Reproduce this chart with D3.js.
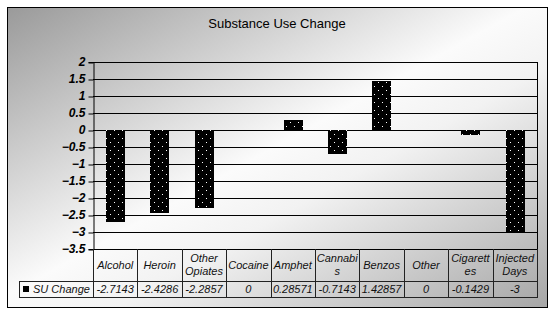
<!DOCTYPE html>
<html>
<head>
<meta charset="utf-8">
<script src="https://cdn.jsdelivr.net/npm/d3@7"></script>
<style>
  body { margin: 0; background: #fff; }
  svg { display: block; font-family: "Liberation Sans", Arial, sans-serif; }
</style>
</head>
<body>
<div id="chart"></div>
<script>
// chart data
const categories = ["Alcohol", "Heroin", "Other Opiates", "Cocaine", "Amphet", "Cannabis", "Benzos", "Other", "Cigarettes", "Injected Days"];
const headerLines = [["Alcohol"], ["Heroin"], ["Other", "Opiates"], ["Cocaine"], ["Amphet"], ["Cannabi", "s"], ["Benzos"], ["Other"], ["Cigarett", "es"], ["Injected", "Days"]];
const suChange = [-2.7143, -2.4286, -2.2857, 0, 0.28571, -0.7143, 1.42857, 0, -0.1429, -3];
const yTicks = [2, 1.5, 1, 0.5, 0, -0.5, -1, -1.5, -2, -2.5, -3, -3.5];
const seriesName = "SU Change";
const chartTitle = "Substance Use Change";

const width = 556, height = 316;
const plot = { left: 93, right: 537, top: 62, bottom: 249 };

const svg = d3.select("#chart").append("svg")
    .attr("width", width)
    .attr("height", height);

const defs = svg.append("defs");

// background gradient
const grad = defs.append("linearGradient")
    .attr("id", "bg")
    .attr("x1", 0).attr("y1", 0)
    .attr("x2", 1).attr("y2", 1);
grad.append("stop").attr("offset", "0%").attr("stop-color", "#9a9a9a");
grad.append("stop").attr("offset", "48%").attr("stop-color", "#fbfbfb");
grad.append("stop").attr("offset", "60%").attr("stop-color", "#f2f2f2");
grad.append("stop").attr("offset", "100%").attr("stop-color", "#a6a6a6");

// dotted bar fill
const pat = defs.append("pattern")
    .attr("id", "dots")
    .attr("patternUnits", "userSpaceOnUse")
    .attr("width", 8).attr("height", 8);
pat.append("rect").attr("width", 8).attr("height", 8).attr("fill", "#000");
pat.append("rect").attr("x", 2).attr("y", 2).attr("width", 1).attr("height", 1).attr("fill", "#fff");
pat.append("rect").attr("x", 6).attr("y", 6).attr("width", 1).attr("height", 1).attr("fill", "#fff");

// chart frame
svg.append("rect")
    .attr("x", 7.5).attr("y", 7.5)
    .attr("width", 540).attr("height", 300)
    .attr("fill", "url(#bg)")
    .attr("stroke", "#000")
    .attr("stroke-width", 1);

// title
svg.append("text")
    .attr("x", 277)
    .attr("y", 28)
    .attr("text-anchor", "middle")
    .attr("font-size", 13)
    .attr("fill", "#000")
    .text(chartTitle);

// scales
const x = d3.scaleBand()
    .domain(categories)
    .range([plot.left, plot.right])
    .paddingInner(0.583)
    .paddingOuter(0.29);

const col = d3.scaleBand()
    .domain(categories)
    .range([plot.left, plot.right])
    .padding(0);

const y = d3.scaleLinear()
    .domain([-3.5, 2])
    .range([plot.bottom, plot.top]);

// gridlines
svg.append("g")
    .selectAll("line")
    .data(yTicks)
    .enter()
    .append("line")
    .attr("x1", plot.left)
    .attr("x2", plot.right)
    .attr("y1", d => Math.round(y(d)) + 0.5)
    .attr("y2", d => Math.round(y(d)) + 0.5)
    .attr("stroke", "#000");

// right border of plot
svg.append("line")
    .attr("x1", plot.right + 0.5).attr("x2", plot.right + 0.5)
    .attr("y1", plot.top).attr("y2", plot.bottom)
    .attr("stroke", "#000");

// bars
svg.append("g")
    .selectAll("rect")
    .data(suChange)
    .enter()
    .append("rect")
    .attr("x", (d, i) => Math.round(x(categories[i])))
    .attr("width", Math.round(x.bandwidth()))
    .attr("y", d => Math.round(y(Math.max(0, d))))
    .attr("height", d => Math.round(Math.abs(y(d) - y(0))))
    .attr("fill", "url(#dots)")
    .attr("shape-rendering", "crispEdges");

// y axis
const yAxis = svg.append("g")
    .attr("transform", `translate(${plot.left + 0.5},0)`)
    .call(d3.axisLeft(y).tickValues(yTicks).tickSize(5).tickPadding(3).tickFormat(d3.format("")));
yAxis.select(".domain").attr("stroke", "#000");
yAxis.selectAll(".tick line").attr("stroke", "#000")
    .attr("transform", (d) => `translate(0,${Math.round(y(d)) + 0.5 - y(d)})`);
yAxis.selectAll("text")
    .attr("font-family", "'Liberation Sans', Arial, sans-serif")
    .attr("font-size", 12)
    .attr("font-weight", "bold")
    .attr("font-style", "italic")
    .attr("fill", "#000");

// data table
const table = svg.append("g").attr("fill", "none").attr("stroke", "#222");
const rowTop = 249, rowMid = 281, rowBot = 297;

table.append("line").attr("x1", plot.left).attr("x2", plot.right + 0.5)
    .attr("y1", rowMid + 0.5).attr("y2", rowMid + 0.5);
table.append("line").attr("x1", 19).attr("x2", plot.right + 0.5)
    .attr("y1", rowBot + 0.5).attr("y2", rowBot + 0.5);
table.append("line").attr("x1", 19).attr("x2", plot.left)
    .attr("y1", rowMid + 0.5).attr("y2", rowMid + 0.5);
table.append("line").attr("x1", 19.5).attr("x2", 19.5)
    .attr("y1", rowMid).attr("y2", rowBot + 1);

const edges = categories.map(c => Math.round(col(c))).concat([plot.right]);
table.selectAll(".vline")
    .data(edges)
    .enter()
    .append("line")
    .attr("x1", d => d + 0.5).attr("x2", d => d + 0.5)
    .attr("y1", rowTop).attr("y2", rowBot + 1);

const cellText = svg.append("g")
    .attr("font-size", 11)
    .attr("font-style", "italic")
    .attr("fill", "#111")
    .attr("text-anchor", "middle");

headerLines.forEach((lines, i) => {
    const cx = col(categories[i]) + col.bandwidth() / 2;
    const startY = lines.length === 1 ? 269 : 262;
    lines.forEach((ln, j) => {
        cellText.append("text")
            .attr("x", cx)
            .attr("y", startY + j * 13)
            .text(ln);
    });
});

cellText.selectAll(".val")
    .data(suChange)
    .enter()
    .append("text")
    .attr("class", "val")
    .attr("x", (d, i) => col(categories[i]) + col.bandwidth() / 2)
    .attr("y", 293)
    .text(d => String(d));

// legend key in table
svg.append("rect")
    .attr("x", 23).attr("y", 286)
    .attr("width", 6).attr("height", 6)
    .attr("fill", "#000");
svg.append("text")
    .attr("x", 33).attr("y", 293)
    .attr("font-size", 11)
    .attr("font-style", "italic")
    .attr("fill", "#111")
    .text(seriesName);
</script>
</body>
</html>
